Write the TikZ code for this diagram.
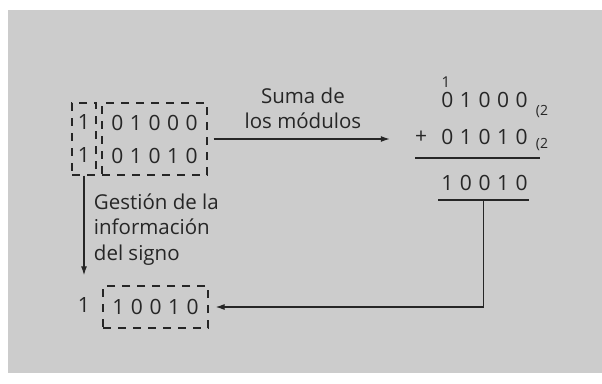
\documentclass[tikz,border=0pt]{standalone}
\usepackage{fontspec}
\setmainfont{Open Sans}
\usetikzlibrary{arrows.meta, positioning, calc}
\definecolor{fondo}{HTML}{CCCCCC}
\definecolor{trazo}{HTML}{262626}
\newcommand\bitsfont{\fontsize{21}{25}\selectfont\spaceskip 6.5pt\relax}
\tikzset{
  bits/.style={font=\bitsfont, inner sep=0pt},
  txt/.style={font=\fontsize{20.5}{25.5}\selectfont},
  base/.style={font=\fontsize{14}{14}\selectfont, inner sep=0pt},
  caja/.style={draw=trazo, dash pattern=on 8pt off 7pt, line width=1.2pt},
  flecha/.style={-{Latex[length=9pt,width=6pt]}, line width=1.2pt, draw=trazo},
}

\begin{document}
\begin{tikzpicture}[x=1pt, y=-1pt, text=trazo]
  \fill[white] (0,0) rectangle (602,383);
  \fill[fondo] (8,10) rectangle (602,373);

  \node[caja, bits, minimum width=24pt, minimum height=72pt, align=center] (sg) at (84,139) {1\\[8pt]1};
  \node[caja, bits, minimum width=105pt, minimum height=72pt, align=center] (md) at (154.5,139) {0 1 0 0 0\\[8pt]0 1 0 1 0};

  \node[font=\fontsize{15}{15}\selectfont, inner sep=0pt] (lleva) at (446,82) {1};
  \node[bits] (op1) at (484.5,100) {0 1 0 0 0};
  \node[base] (b1) at (542,112) {(2};
  \node[bits] (mas) at (421,137) {+};
  \node[bits] (op2) at (484.5,137) {0 1 0 1 0};
  \node[base] (b2) at (542,145) {(2};
  \draw[trazo, line width=1.2pt] (415,158) -- (540,158);
  \node[bits] (res) at (484.5,183) {1 0 0 1 0};
  \draw[trazo, line width=1.2pt] (438,200) -- coordinate (pie) (529,200);

  \node[bits] (rs) at (84,305) {1};
  \node[caja, bits, minimum width=105pt, minimum height=42pt] (rm) at (155.5,307) {1 0 0 1 0};

  \draw[flecha, shorten <=6pt, shorten >=25pt] (md.east) -- (md.east -| mas.west)
    node[pos=0.46, above=6pt, txt, align=center] {Suma de\\los módulos};
  \draw[flecha, shorten >=22pt] (sg.south) -- (rs.north)
    node[pos=0.44, right=6pt, txt, align=left] {Gestión de la\\información\\del signo};
  \draw[flecha, shorten >=7pt] (pie) |- (rm.east);
\end{tikzpicture}
\end{document}
